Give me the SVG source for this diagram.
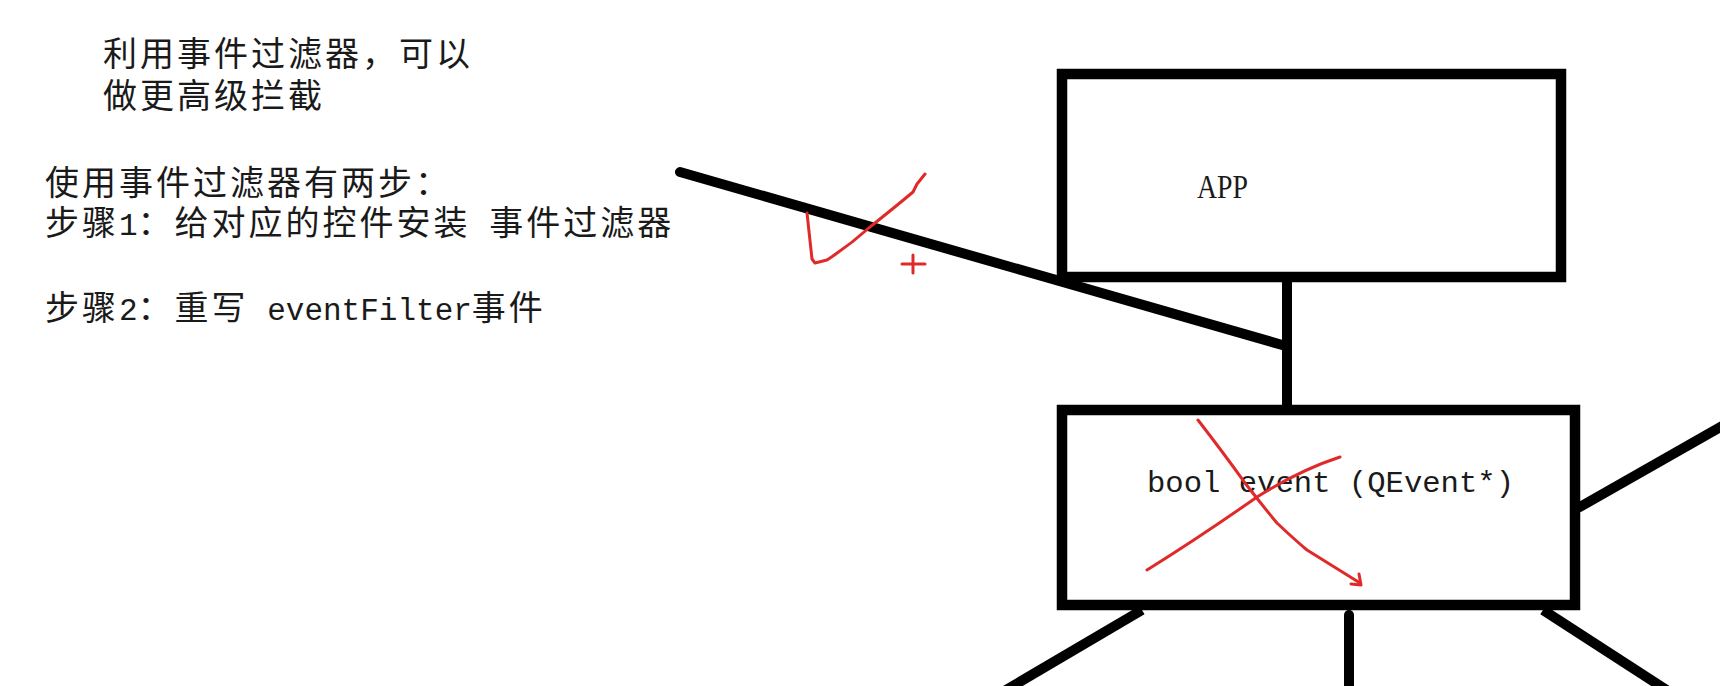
<svg xmlns="http://www.w3.org/2000/svg" width="1720" height="686" viewBox="0 0 1720 686">
<style>
.bg{fill:#ffffff}
.box{fill:none;stroke:#000;stroke-width:10.5}
.wire{stroke:#000;stroke-width:10;fill:none}
.red{stroke:#e02a2a;stroke-width:3;fill:none;stroke-linecap:round;stroke-linejoin:round}
.cjk{font-family:"Noto Sans CJK SC","Liberation Sans",sans-serif;font-size:34px;letter-spacing:3px;fill:#1a1a1a}
.mono{font-family:"Liberation Mono",monospace;font-size:31px;letter-spacing:0px}
.lbl{font-family:"Liberation Mono",monospace;font-size:30px;fill:#1a1a1a}
.app{font-family:"Liberation Serif",serif;font-size:33px;fill:#1a1a1a}
</style>
<rect class="bg" x="0" y="0" width="1720" height="686"/>
<g id="notes">
<text class="cjk" x="103" y="65.5">利用事件过滤器，可以</text>
<text class="cjk" x="103" y="107.5">做更高级拦截</text>
<text class="cjk" x="45" y="194.5">使用事件过滤器有两步：</text>
<text class="cjk" x="45" y="235">步骤<tspan class="mono">1</tspan>：给对应的控件安装<tspan class="mono"> </tspan>事件过滤器</text>
<text class="cjk" x="45" y="319.5">步骤<tspan class="mono">2</tspan>：重写<tspan class="mono"> eventFilter</tspan>事件</text>
</g>
<g id="connectors">
<line class="wire" x1="680" y1="172" x2="1284" y2="345.5" stroke-linecap="round" stroke-width="11"/>
<line class="wire" x1="1287" y1="277" x2="1287" y2="410"/>
<line class="wire" x1="1578" y1="508" x2="1740" y2="416"/>
<line class="wire" x1="1142" y1="610" x2="989" y2="700"/>
<line class="wire" x1="1349" y1="615" x2="1349" y2="700" stroke-width="9" stroke-linecap="round"/>
<line class="wire" x1="1543" y1="610" x2="1682" y2="700"/>
</g>
<g id="app">
<rect class="box" x="1062" y="74" width="499" height="203"/>
<text class="app" x="1197" y="198" textLength="51" lengthAdjust="spacingAndGlyphs">APP</text>
</g>
<g id="event">
<rect class="box" x="1062" y="410" width="513" height="195"/>
<text class="lbl" x="1147" y="492" textLength="367" lengthAdjust="spacingAndGlyphs">bool event (QEvent*)</text>
</g>
<g id="marks">
<path class="red" d="M807,213 L812,259 L815,263 L827,260 Q850,245 870,227 Q900,203 913,192 L917,184 L925,174"/>
<path class="red" d="M902,264 L925,264 M913,255 L913,273"/>
<path class="red" d="M1198,420 Q1225,455 1245,483 Q1262,505 1277,523 Q1295,540 1307,550 L1360,583"/>
<path class="red" d="M1359,574 L1361,585 L1351,584"/>
<path class="red" d="M1147,570 Q1200,537 1257,497 Q1300,470 1340,457"/>
</g>
</svg>
